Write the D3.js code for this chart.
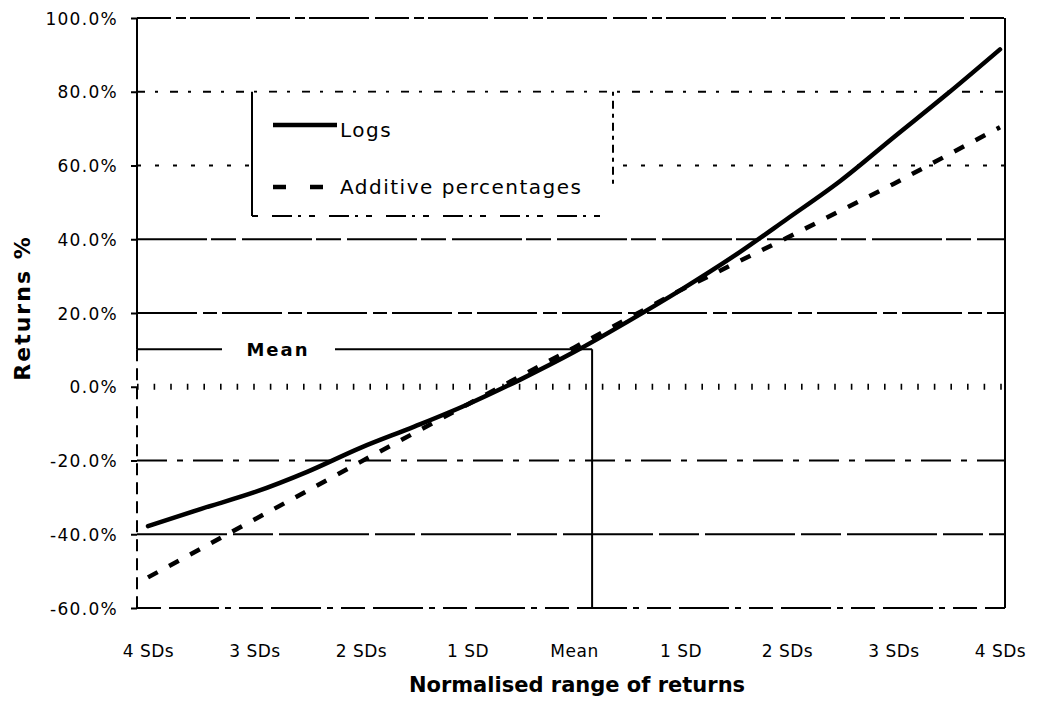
<!DOCTYPE html>
<html><head><meta charset="utf-8">
<script src="https://cdn.jsdelivr.net/npm/d3@7"></script>
<style>body{margin:0;background:#fff} svg{display:block}</style>
</head><body><svg id="c" width="1037" height="701"></svg>
<script>
// ---- data ----
const sdPoints = [-4,-3.5,-3,-2.5,-2,-1.5,-1,-0.5,0,0.5,1,1.5,2,2.5,3,3.5,4];
const logsReturns = [-37.8,-33.1,-28.6,-23.0,-16.5,-10.8,-4.8,2.0,9.4,17.6,26.2,35.4,45.5,55.8,67.6,79.3,91.5];
const sdCategories = [-4,-3,-2,-1,0,1,2,3,4];
const additiveReturns = [-51.7,-36.0,-20.3,-4.8,10.6,26.2,40.4,55.0,70.4];
const xTickLabels = ["4 SDs","3 SDs","2 SDs","1 SD","Mean","1 SD","2 SDs","3 SDs","4 SDs"];
const yTickValues = [100,80,60,40,20,0,-20,-40,-60];
const yTickLabels = ["100.0%","80.0%","60.0%","40.0%","20.0%","0.0%","-20.0%","-40.0%","-60.0%"];
const seriesNames = ["Logs","Additive percentages"];
const meanSD = 0.17, meanReturn = 10.2;
const xTitle = "Normalised range of returns", yTitle = "Returns %", meanLabel = "Mean";

// ---- layout ----
const svg = d3.select("#c");
const plotLeft = 137, plotRight = 1005;
const x = d3.scaleLinear().domain([-4,4]).range([148,1000]);
const y = d3.scaleLinear().domain([-60,100]).range([608,18]);
const plotTop = y(100), plotBottom = y(-60);
const ink = "#000";

const gridDash = {"100":"34,5,10,4,60,6","80":"8,10,3,12","60":"4,14","40":"70,4,25,6",
  "20":"60,6,14,5","0":"1.6,15","-20":"30,10,6,10","-40":"90,6,40,6","-60":"24,8,50,6,6,8"};

// gridlines
svg.append("g").selectAll("line").data(yTickValues).join("line")
  .attr("x1", plotLeft).attr("x2", plotRight)
  .attr("y1", d => y(d)).attr("y2", d => y(d))
  .attr("stroke", ink)
  .attr("stroke-width", d => d === 0 ? 6 : 2)
  .attr("stroke-dasharray", d => gridDash[String(d)]);

// frame: left & right borders
svg.append("line").attr("x1", plotLeft).attr("x2", plotLeft).attr("y1", plotTop).attr("y2", y(meanReturn))
  .attr("stroke", ink).attr("stroke-width", 2);
svg.append("line").attr("x1", plotLeft).attr("x2", plotLeft).attr("y1", y(meanReturn)).attr("y2", plotBottom)
  .attr("stroke", ink).attr("stroke-width", 2).attr("stroke-dasharray", "12,7");
svg.append("line").attr("x1", plotRight).attr("x2", plotRight).attr("y1", plotTop).attr("y2", plotBottom)
  .attr("stroke", ink).attr("stroke-width", 2);

// y axis (ticks + labels)
const yAxis = d3.axisLeft(y).tickValues(yTickValues)
  .tickFormat((d,i) => yTickLabels[i]).tickSize(6).tickPadding(13);
const gy = svg.append("g").attr("transform", `translate(${plotLeft},0)`).call(yAxis);
gy.select(".domain").remove();
gy.selectAll(".tick line").attr("stroke", ink).attr("stroke-width", 2);
gy.selectAll(".tick text").attr("fill", ink)
  .style("font-family", "'DejaVu Sans'").style("font-size", "17px")
  .style("letter-spacing", "1.3px").attr("dy", "0.36em");

// x axis labels
const xAxis = d3.axisBottom(x).tickValues(sdCategories)
  .tickFormat((d,i) => xTickLabels[i]).tickSize(0).tickPadding(0);
const gx = svg.append("g").attr("transform", `translate(0,${plotBottom})`).call(xAxis);
gx.select(".domain").remove();
gx.selectAll(".tick text").attr("fill", ink).attr("y", 49).attr("dy", 0)
  .style("font-family", "'DejaVu Sans'").style("font-size", "17px").style("letter-spacing", "0.5px");

// axis titles
svg.append("text").attr("x", 577).attr("y", 692).attr("text-anchor", "middle")
  .style("font-family", "'DejaVu Sans'").style("font-weight", "bold").style("font-size", "21px")
  .text(xTitle);
svg.append("text").attr("transform", "translate(30,308) rotate(-90)").attr("text-anchor", "middle")
  .style("font-family", "'DejaVu Sans'").style("font-weight", "bold").style("font-size", "22px")
  .style("letter-spacing", "2px").text(yTitle);

// mean marker
const my = y(meanReturn), mx = x(meanSD);
svg.append("line").attr("x1", plotLeft).attr("x2", 222).attr("y1", my).attr("y2", my)
  .attr("stroke", ink).attr("stroke-width", 2);
svg.append("line").attr("x1", 335).attr("x2", mx).attr("y1", my).attr("y2", my)
  .attr("stroke", ink).attr("stroke-width", 2);
svg.append("line").attr("x1", mx).attr("x2", mx).attr("y1", my).attr("y2", plotBottom)
  .attr("stroke", ink).attr("stroke-width", 2);
svg.append("text").attr("x", 278).attr("y", my + 7).attr("text-anchor", "middle")
  .style("font-family", "'DejaVu Sans'").style("font-weight", "bold").style("font-size", "18px")
  .style("letter-spacing", "2px").text(meanLabel);

// legend
const lg = svg.append("g");
const lx0 = 252, lx1 = 613, ly0 = y(80), ly1 = 216;
lg.append("rect").attr("x", lx0).attr("y", ly0 + 1).attr("width", lx1 - lx0).attr("height", ly1 - ly0 - 1)
  .attr("fill", "#fff");
lg.append("line").attr("x1", lx0).attr("x2", lx0).attr("y1", ly0).attr("y2", ly1)
  .attr("stroke", ink).attr("stroke-width", 2);
lg.append("line").attr("x1", lx1).attr("x2", lx1).attr("y1", ly0).attr("y2", 184)
  .attr("stroke", ink).attr("stroke-width", 2).attr("stroke-dasharray", "4,5,8,5");
lg.append("line").attr("x1", lx0).attr("x2", lx1).attr("y1", ly1).attr("y2", ly1)
  .attr("stroke", ink).attr("stroke-width", 2).attr("stroke-dasharray", "6,14,20,6,3,8");
lg.append("line").attr("x1", 273).attr("x2", 337).attr("y1", 125).attr("y2", 125)
  .attr("stroke", ink).attr("stroke-width", 4.5);
lg.append("line").attr("x1", 273).attr("x2", 323).attr("y1", 187).attr("y2", 187)
  .attr("stroke", ink).attr("stroke-width", 4.5).attr("stroke-dasharray", "13,24");
lg.selectAll("text").data(seriesNames).join("text")
  .attr("x", 340).attr("y", (d,i) => i === 0 ? 137 : 194)
  .style("font-family", "'DejaVu Sans'").style("font-size", "20px").style("letter-spacing", "1.5px")
  .attr("fill", ink).text(d => d);

// series
const logsData = sdPoints.map((s,i) => [s, logsReturns[i]]);
const addData = sdCategories.map((s,i) => [s, additiveReturns[i]]);
const line = d3.line().x(d => x(d[0])).y(d => y(d[1]));
svg.append("path").datum(addData).attr("d", line.curve(d3.curveLinear))
  .attr("fill", "none").attr("stroke", ink).attr("stroke-width", 4.5)
  .attr("stroke-dasharray", "11,13");
svg.append("path").datum(logsData).attr("d", line.curve(d3.curveCatmullRom))
  .attr("fill", "none").attr("stroke", ink).attr("stroke-width", 4.5)
  .attr("stroke-linecap", "round");
</script></body></html>
